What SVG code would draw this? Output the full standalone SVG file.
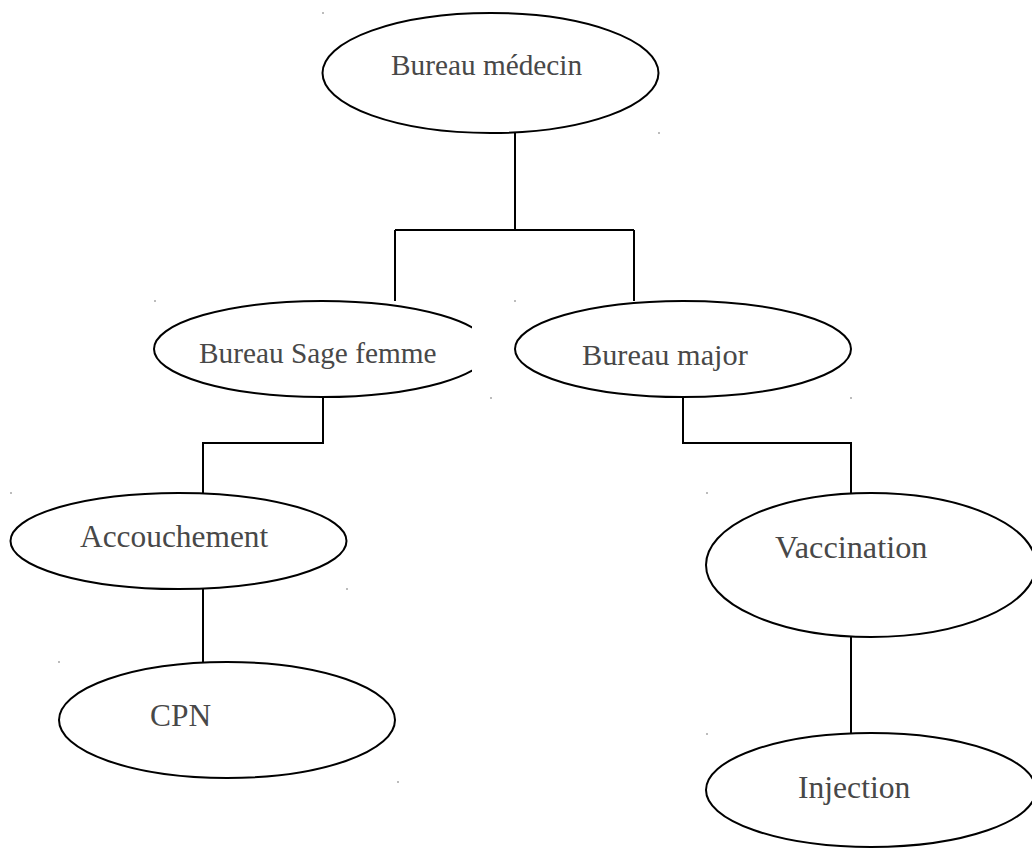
<svg xmlns="http://www.w3.org/2000/svg" width="1032" height="849" viewBox="0 0 1032 849">
<style>
.node ellipse{fill:#fff;stroke:#000;stroke-width:2}
.node text{font-family:"Liberation Serif","Times New Roman",serif;font-size:29.3px;fill:#484848}
.conn path{fill:none;stroke:#000;stroke-width:2}
.dot{fill:#666}
</style>
<defs>
<clipPath id="clipSage"><rect x="0" y="290" width="472" height="120"/></clipPath>
</defs>
<rect width="1032" height="849" fill="#fff"/>
<g id="connectors" class="conn">
<path d="M515 133 V230 M395 230 H634 M395 230 V301 M634 230 V301"/>
<path d="M323 397 V443 H203 V493"/>
<path d="M683 397 V443 H851 V493"/>
<path d="M203 589 V662"/>
<path d="M851 637 V733"/>
</g>
<g id="bureau-medecin" class="node">
<ellipse cx="490.5" cy="73" rx="168" ry="60"/>
<text x="391" y="75">Bureau médecin</text>
</g>
<g id="bureau-sage-femme" class="node">
<ellipse cx="322" cy="349" rx="168" ry="48" clip-path="url(#clipSage)"/>
<text x="199" y="363">Bureau Sage femme</text>
</g>
<g id="bureau-major" class="node">
<ellipse cx="683" cy="349" rx="168" ry="48"/>
<text x="582" y="365" style="font-size:30.3px">Bureau major</text>
</g>
<g id="accouchement" class="node">
<ellipse cx="178.5" cy="541" rx="168" ry="48"/>
<text x="80" y="547" style="font-size:31.4px">Accouchement</text>
</g>
<g id="cpn" class="node">
<ellipse cx="227" cy="720" rx="168" ry="58"/>
<text x="150" y="726" style="font-size:31.4px">CPN</text>
</g>
<g id="vaccination" class="node">
<ellipse cx="871" cy="565" rx="165" ry="72"/>
<text x="775" y="558" style="font-size:32.3px">Vaccination</text>
</g>
<g id="injection" class="node">
<ellipse cx="871" cy="790" rx="165" ry="57"/>
<text x="798" y="798" style="font-size:31.6px">Injection</text>
</g>
<g id="marks">
<circle class="dot" cx="323" cy="13" r="0.8"/>
<circle class="dot" cx="659" cy="133" r="0.8"/>
<circle class="dot" cx="155" cy="301" r="0.8"/>
<circle class="dot" cx="491" cy="398" r="0.8"/>
<circle class="dot" cx="515" cy="301" r="0.8"/>
<circle class="dot" cx="851" cy="398" r="0.8"/>
<circle class="dot" cx="11" cy="493" r="0.8"/>
<circle class="dot" cx="347" cy="589" r="0.8"/>
<circle class="dot" cx="59" cy="662" r="0.8"/>
<circle class="dot" cx="398" cy="782" r="0.8"/>
<circle class="dot" cx="707" cy="493" r="0.8"/>
<circle class="dot" cx="707" cy="734" r="0.8"/>
</g>
</svg>
